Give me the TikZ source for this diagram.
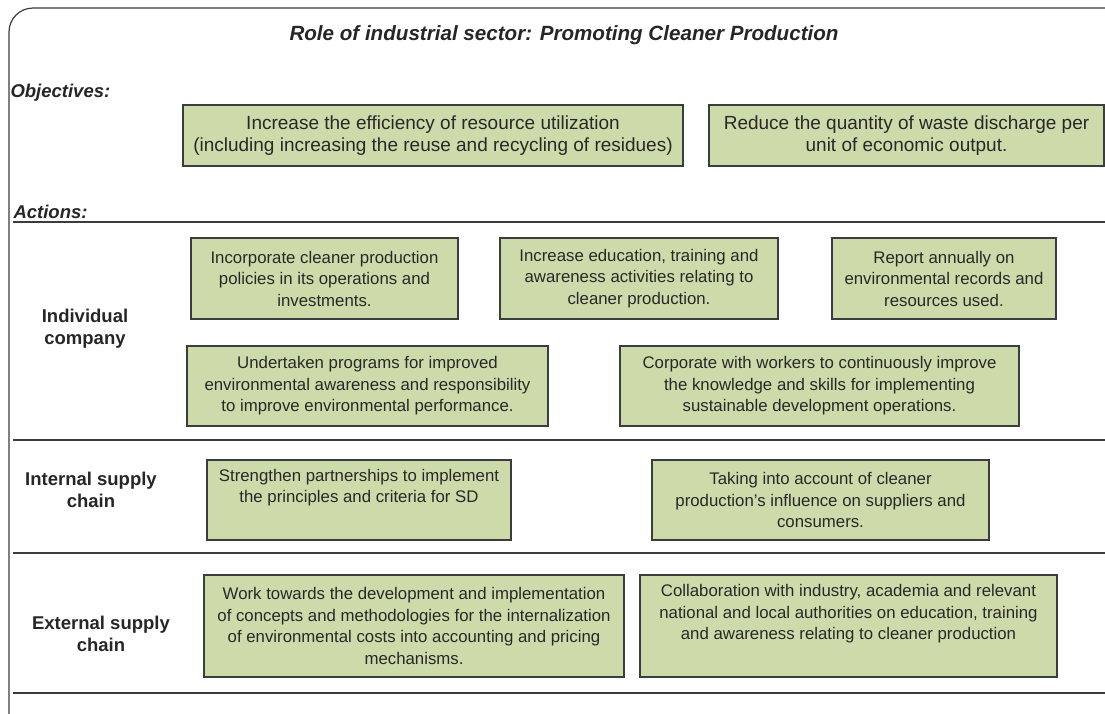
\documentclass[tikz,border=0pt]{standalone}
\usepackage{fontspec}
\setmainfont{Liberation Sans}
\usetikzlibrary{positioning}
\definecolor{cpfill}{RGB}{205,219,170}
\definecolor{cpline}{RGB}{60,60,60}
\definecolor{cptext}{RGB}{40,40,40}
\tikzset{
  cpbox/.style={draw=cpline, line width=1.3pt, fill=cpfill, align=center,
    text=cptext, inner sep=2pt, font=\fontsize{16.8}{21.5}\selectfont},
  objbox/.style={cpbox, font=\fontsize{19}{22}\selectfont},
  rowlabel/.style={align=center, text=black!85, font=\bfseries\fontsize{18.5}{22}\selectfont},
  headlabel/.style={anchor=west, text=black!85, font=\bfseries\itshape\fontsize{18.5}{20}\selectfont},
  sepline/.style={draw=cpline, line width=1.2pt}
}
\begin{document}
\begin{tikzpicture}[x=1pt,y=-1pt]
\useasboundingbox (0,0) rectangle (1105,713);
% frame
\draw[cpline, line width=1.2pt, rounded corners=24pt] (9,8) rectangle (1130,740);
\node[text=black!85, font=\bfseries\itshape\fontsize{20.6}{24}\selectfont] (title) at (564,35) {Role of industrial sector: Promoting Cleaner Production};

% objectives
\node[headlabel] (obj) at (7,93) {Objectives:};
\node[objbox, minimum width=500pt, minimum height=61pt] (o1) at (433,135.5) {Increase the efficiency of resource utilization\\(including increasing the reuse and recycling of residues)};
\node[objbox, minimum width=395pt, minimum height=61pt] (o2) at (906.5,135.5) {Reduce the quantity of waste discharge per\\unit of economic output.};

% actions
\node[headlabel] (act) at (10,212) {Actions:};
\draw[sepline] (13,222) -- (1105,222);
\draw[sepline] (13,440) -- (1105,440);
\draw[sepline] (13,553) -- (1105,553);
\draw[sepline] (13,693) -- (1105,693);

% individual company
\node[rowlabel] (indiv) at (85,329) {Individual\\company};
\node[cpbox, minimum width=267pt, minimum height=81pt] (a) at (324.5,278.5) {Incorporate cleaner production\\policies in its operations and\\investments.};
\node[cpbox, minimum width=278pt, minimum height=81pt] (b) at (639,278.5) {Increase education, training and\\awareness activities relating to\\cleaner production.};
\node[cpbox, minimum width=224pt, minimum height=81pt] (c) at (944,278.5) {Report annually on\\environmental records and\\resources used.};
\node[cpbox, minimum width=361pt, minimum height=80pt] (d) at (367.5,386) {Undertaken programs for improved\\environmental awareness and responsibility\\to improve environmental performance.};
\node[cpbox, minimum width=399pt, minimum height=80pt] (e) at (819.5,386) {Corporate with workers to continuously improve\\the knowledge and skills for implementing\\sustainable development operations.};

% internal supply chain
\node[rowlabel] (intern) at (91,490) {Internal supply\\chain};
\node[cpbox, minimum width=304pt, minimum height=80pt] (f) at (359,500) {Strengthen partnerships to implement\\the principles and criteria for SD\\\strut};
\node[cpbox, minimum width=337pt, minimum height=80pt] (g) at (820.5,500) {Taking into account of cleaner\\production’s influence on suppliers and\\consumers.};

% external supply chain
\node[rowlabel] (extern) at (101,634) {External supply\\chain};
\node[cpbox, minimum width=420pt, minimum height=102pt] (h) at (414,626) {Work towards the development and implementation\\of concepts and methodologies for the internalization\\of environmental costs into accounting and pricing\\mechanisms.};
\node[cpbox, minimum width=417pt, minimum height=102pt] (i) at (848.5,626) {Collaboration with industry, academia and relevant\\national and local authorities on education, training\\and awareness relating to cleaner production\\\strut};
\end{tikzpicture}
\end{document}
